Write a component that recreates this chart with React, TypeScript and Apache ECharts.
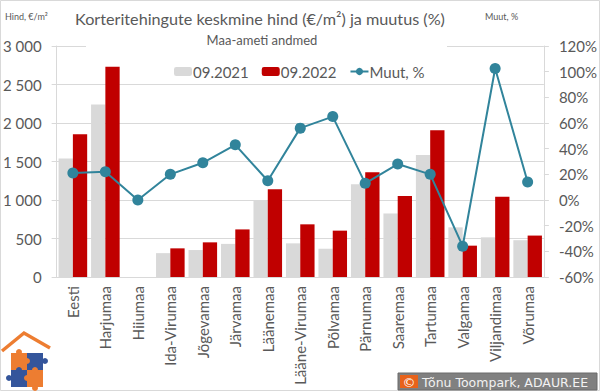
import React, { useEffect, useRef } from "react";
import * as echarts from "echarts";

const categories = ["Eesti", "Harjumaa", "Hiiumaa", "Ida-Virumaa", "Jõgevamaa", "Järvamaa", "Läänemaa", "Lääne-Virumaa", "Põlvamaa", "Pärnumaa", "Saaremaa", "Tartumaa", "Valgamaa", "Viljandimaa", "Võrumaa"];
const price2021 = [1540, 2240, null, 310, 350, 430, 990, 437, 367, 1205, 825, 1585, 645, 515, 478];
const price2022 = [1855, 2730, null, 372, 450, 618, 1138, 684, 602, 1360, 1052, 1905, 407, 1043, 538];
const changePct = [21, 22, 0, 20, 29, 43, 15, 56, 65, 13, 28, 20, -36, 102.5, 14];
const seriesNames = ["09.2021", "09.2022", "Muut, %"];

const FONT = "Lato";
const TXT = "#595959";
const GRIDC = "#d9d9d9";
const ORANGE = "#ed7d31";
const BLUE = "#34559b";

function fmtThousands(v: number) {
  return String(v).replace(/\B(?=(\d{3})+(?!\d))/g, " ");
}

export default function App() {
  const ref = useRef<HTMLDivElement>(null);
  useEffect(() => {
    document.body.style.margin = "0";
    const chart = echarts.init(ref.current!, null, { renderer: "svg" });
    chart.setOption({
      animation: false,
      backgroundColor: "#fff",
      textStyle: { fontFamily: FONT },
      grid: { left: 53, right: 53, top: 46, bottom: 115, containLabel: false },
      legend: {
        left: 169,
        top: 59,
        itemWidth: 18,
        itemHeight: 9,
        itemGap: 13,
        textStyle: { fontFamily: FONT, fontSize: 15, color: TXT, padding: [0, 0, 0, -4] },
        data: seriesNames,
      },
      xAxis: {
        type: "category",
        data: categories,
        axisLine: { lineStyle: { color: GRIDC } },
        axisTick: { show: false },
        axisLabel: { rotate: 90, fontFamily: FONT, fontSize: 15, color: TXT, margin: 9, interval: 0 },
      },
      yAxis: [
        {
          type: "value",
          min: 0,
          max: 3000,
          interval: 500,
          axisLine: { show: true, lineStyle: { color: GRIDC } },
          axisTick: { show: true, length: 5, lineStyle: { color: GRIDC } },
          splitLine: { lineStyle: { color: GRIDC } },
          axisLabel: { fontFamily: FONT, fontSize: 15, color: TXT, margin: 15, formatter: (v: number) => fmtThousands(v) },
        },
        {
          type: "value",
          min: -60,
          max: 120,
          interval: 20,
          position: "right",
          axisLine: { show: true, lineStyle: { color: GRIDC } },
          axisTick: { show: true, length: 5, lineStyle: { color: GRIDC } },
          splitLine: { show: false },
          axisLabel: { fontFamily: FONT, fontSize: 15, color: TXT, margin: 15, formatter: (v: number) => v + "%" },
        },
      ],
      series: [
        {
          name: seriesNames[0],
          type: "bar",
          data: price2021,
          barGap: "0%",
          barCategoryGap: "12%",
          itemStyle: { color: "#d9d9d9" },
        },
        {
          name: seriesNames[1],
          type: "bar",
          data: price2022,
          barGap: "0%",
          barCategoryGap: "12%",
          itemStyle: { color: "#c00000" },
        },
        {
          name: seriesNames[2],
          type: "line",
          yAxisIndex: 1,
          data: changePct,
          symbol: "circle",
          symbolSize: 11,
          lineStyle: { color: "#31849b", width: 2 },
          itemStyle: { color: "#31849b" },
          z: 5,
        },
      ],
      graphic: [
        { type: "rect", z: 100, shape: { x: 0.5, y: 0.5, width: 599, height: 390 }, style: { fill: "none", stroke: GRIDC, lineWidth: 1 } },
        { type: "rect", z: 90, shape: { x: 86, y: 42, width: 361, height: 8 }, style: { fill: "#fff" } },
        { type: "text", z: 100, x: 260, y: 18, style: { text: "Korteritehingute keskmine hind (€/m²) ja muutus (%)", fontFamily: FONT, fontSize: 16.2, fill: TXT, textAlign: "center", textVerticalAlign: "middle" } },
        { type: "text", z: 100, x: 262, y: 40, style: { text: "Maa-ameti andmed", fontFamily: FONT, fontSize: 13, fill: TXT, textAlign: "center", textVerticalAlign: "middle" } },
        { type: "text", z: 100, x: 5, y: 16, style: { text: "Hind, €/m²", fontFamily: FONT, fontSize: 9, fill: TXT, textVerticalAlign: "middle" } },
        { type: "text", z: 100, x: 485, y: 16, style: { text: "Muut, %", fontFamily: FONT, fontSize: 9, fill: TXT, textVerticalAlign: "middle" } },
        // logo
        { type: "polyline", z: 100, shape: { points: [[2, 351], [24, 333], [50, 348]] }, style: { stroke: ORANGE, lineWidth: 3.5, fill: "none" } },
        { type: "rect", z: 100, shape: { x: 11, y: 353, width: 16, height: 17 }, style: { fill: ORANGE } },
        { type: "rect", z: 100, shape: { x: 27, y: 353, width: 16, height: 17 }, style: { fill: BLUE } },
        { type: "rect", z: 100, shape: { x: 11, y: 370, width: 16, height: 17 }, style: { fill: BLUE } },
        { type: "rect", z: 100, shape: { x: 27, y: 370, width: 16, height: 17 }, style: { fill: ORANGE } },
        { type: "circle", z: 101, shape: { cx: 27, cy: 361, r: 3 }, style: { fill: ORANGE } },
        { type: "circle", z: 101, shape: { cx: 27, cy: 378, r: 3 }, style: { fill: ORANGE } },
        { type: "circle", z: 101, shape: { cx: 19, cy: 370, r: 3 }, style: { fill: BLUE } },
        { type: "circle", z: 101, shape: { cx: 35, cy: 370, r: 3 }, style: { fill: ORANGE } },
        { type: "circle", z: 101, shape: { cx: 9, cy: 378, r: 3 }, style: { fill: BLUE } },
        { type: "circle", z: 101, shape: { cx: 45, cy: 361, r: 3 }, style: { fill: BLUE } },
        { type: "circle", z: 101, shape: { cx: 35, cy: 388, r: 3 }, style: { fill: ORANGE } },
        { type: "circle", z: 101, shape: { cx: 19, cy: 352, r: 3 }, style: { fill: ORANGE } },
        // copyright
        { type: "rect", z: 100, shape: { x: 398, y: 373, width: 199, height: 17 }, style: { fill: "#808080", stroke: "#6b6b6b", lineWidth: 1 } },
        { type: "rect", z: 101, shape: { x: 400, y: 375, width: 18, height: 13 }, style: { fill: "#e8621a" } },
        { type: "text", z: 102, x: 409, y: 382, style: { text: "©", fontFamily: "DejaVu Sans", fontSize: 13, fill: "#fff", textAlign: "center", textVerticalAlign: "middle" } },
        { type: "text", z: 102, x: 422, y: 382, style: { text: "Tõnu Toompark, ADAUR.EE", fontFamily: "DejaVu Sans", fontSize: 12.5, fill: "#f2f2f2", textVerticalAlign: "middle" } },
      ],
    });
    return () => chart.dispose();
  }, []);
  return <div ref={ref} style={{ width: 600, height: 392 }} />;
}
